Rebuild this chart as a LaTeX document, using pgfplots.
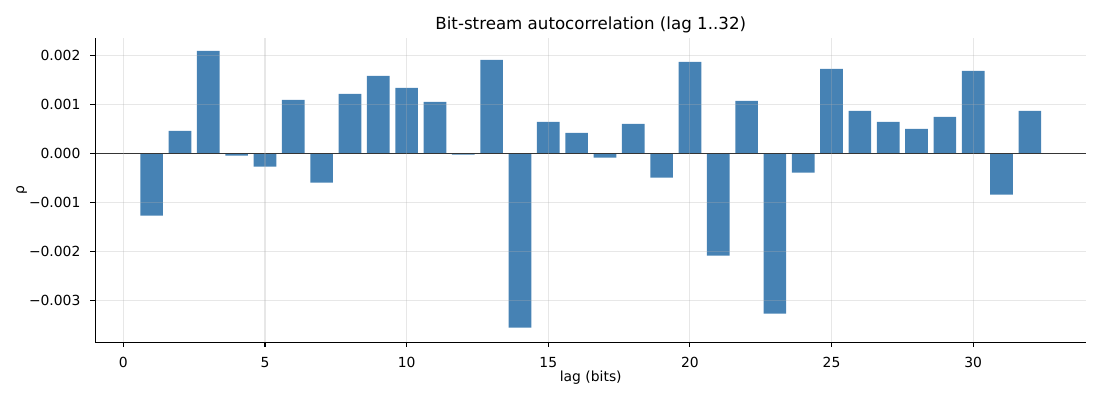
\documentclass[border=0pt]{standalone}
\usepackage{fontspec}
\setmainfont{DejaVu Sans}
\usepackage{pgfplots}
\pgfplotsset{compat=1.18}
\definecolor{steel}{HTML}{4682B4}
\definecolor{gridc}{HTML}{B0B0B0}
\begin{document}
\begin{tikzpicture}
\begin{axis}[
  at={(0,0)}, anchor=south west,
  scale only axis, width=713.5pt, height=218.9pt,
  xmin=-0.99, xmax=33.99,
  ymin=-0.003852, ymax=0.002352,
  clip=false,
  axis x line*=bottom, axis y line*=left,
  axis line style={line width=0.8pt, -},
  axis on top,
  tick align=outside,
  major tick length=3.5pt,
  every tick/.style={black, line width=0.8pt},
  xtick={0,5,10,15,20,25,30},
  ytick={-0.003,-0.002,-0.001,0,0.001,0.002},
  yticklabels={−0.003,−0.002,−0.001,0.000,0.001,0.002},
  scaled y ticks=false,
  /pgf/number format/assume math mode=true,
  tick label style={font=\fontsize{10}{12}\selectfont, inner sep=0pt},
  xticklabel style={anchor=north, yshift=-7pt},
  yticklabel style={anchor=east, xshift=-7pt},
  grid=major,
  major grid style={color=gridc, opacity=0.3, line width=0.8pt},
  xlabel={lag (bits)},
  xlabel style={font=\fontsize{10}{12}\selectfont, at={(axis description cs:0.5,0)}, anchor=base, inner sep=0pt, yshift=-28.7pt},
]
\addplot[ybar, bar width=0.8, bar shift=0pt, fill=steel, draw=none] coordinates {
(1,-0.001272) (2,0.000456) (3,0.002088) (4,-0.000048) (5,-0.000272)
(6,0.001088) (7,-0.000599) (8,0.001211) (9,0.001578) (10,0.001333)
(11,0.001048) (12,-0.000027) (13,0.001905) (14,-0.003558) (15,0.000639)
(16,0.000415) (17,-0.000088) (18,0.000599) (19,-0.000497) (20,0.001864)
(21,-0.002088) (22,0.001068) (23,-0.003272) (24,-0.000395) (25,0.001721)
(26,0.000864) (27,0.000639) (28,0.000497) (29,0.000741) (30,0.001680)
(31,-0.000844) (32,0.000864)
};
\draw[black, line width=0.8pt] (axis cs:-0.99,0) -- (axis cs:33.99,0);
\node[font=\fontsize{10}{12}\selectfont, rotate=90, anchor=base, inner sep=0pt] at ([xshift=-51.3pt]axis description cs:0,0.5) {ρ};
\node[font=\fontsize{12}{14}\selectfont, anchor=base, inner sep=0pt] at ([yshift=6pt]axis description cs:0.5,1) {Bit-stream autocorrelation (lag 1..32)};
\end{axis}
\pgfresetboundingbox
\path[use as bounding box] (-68.6pt,-41.7pt) rectangle (723.4pt,246.3pt);
\end{tikzpicture}
\end{document}
